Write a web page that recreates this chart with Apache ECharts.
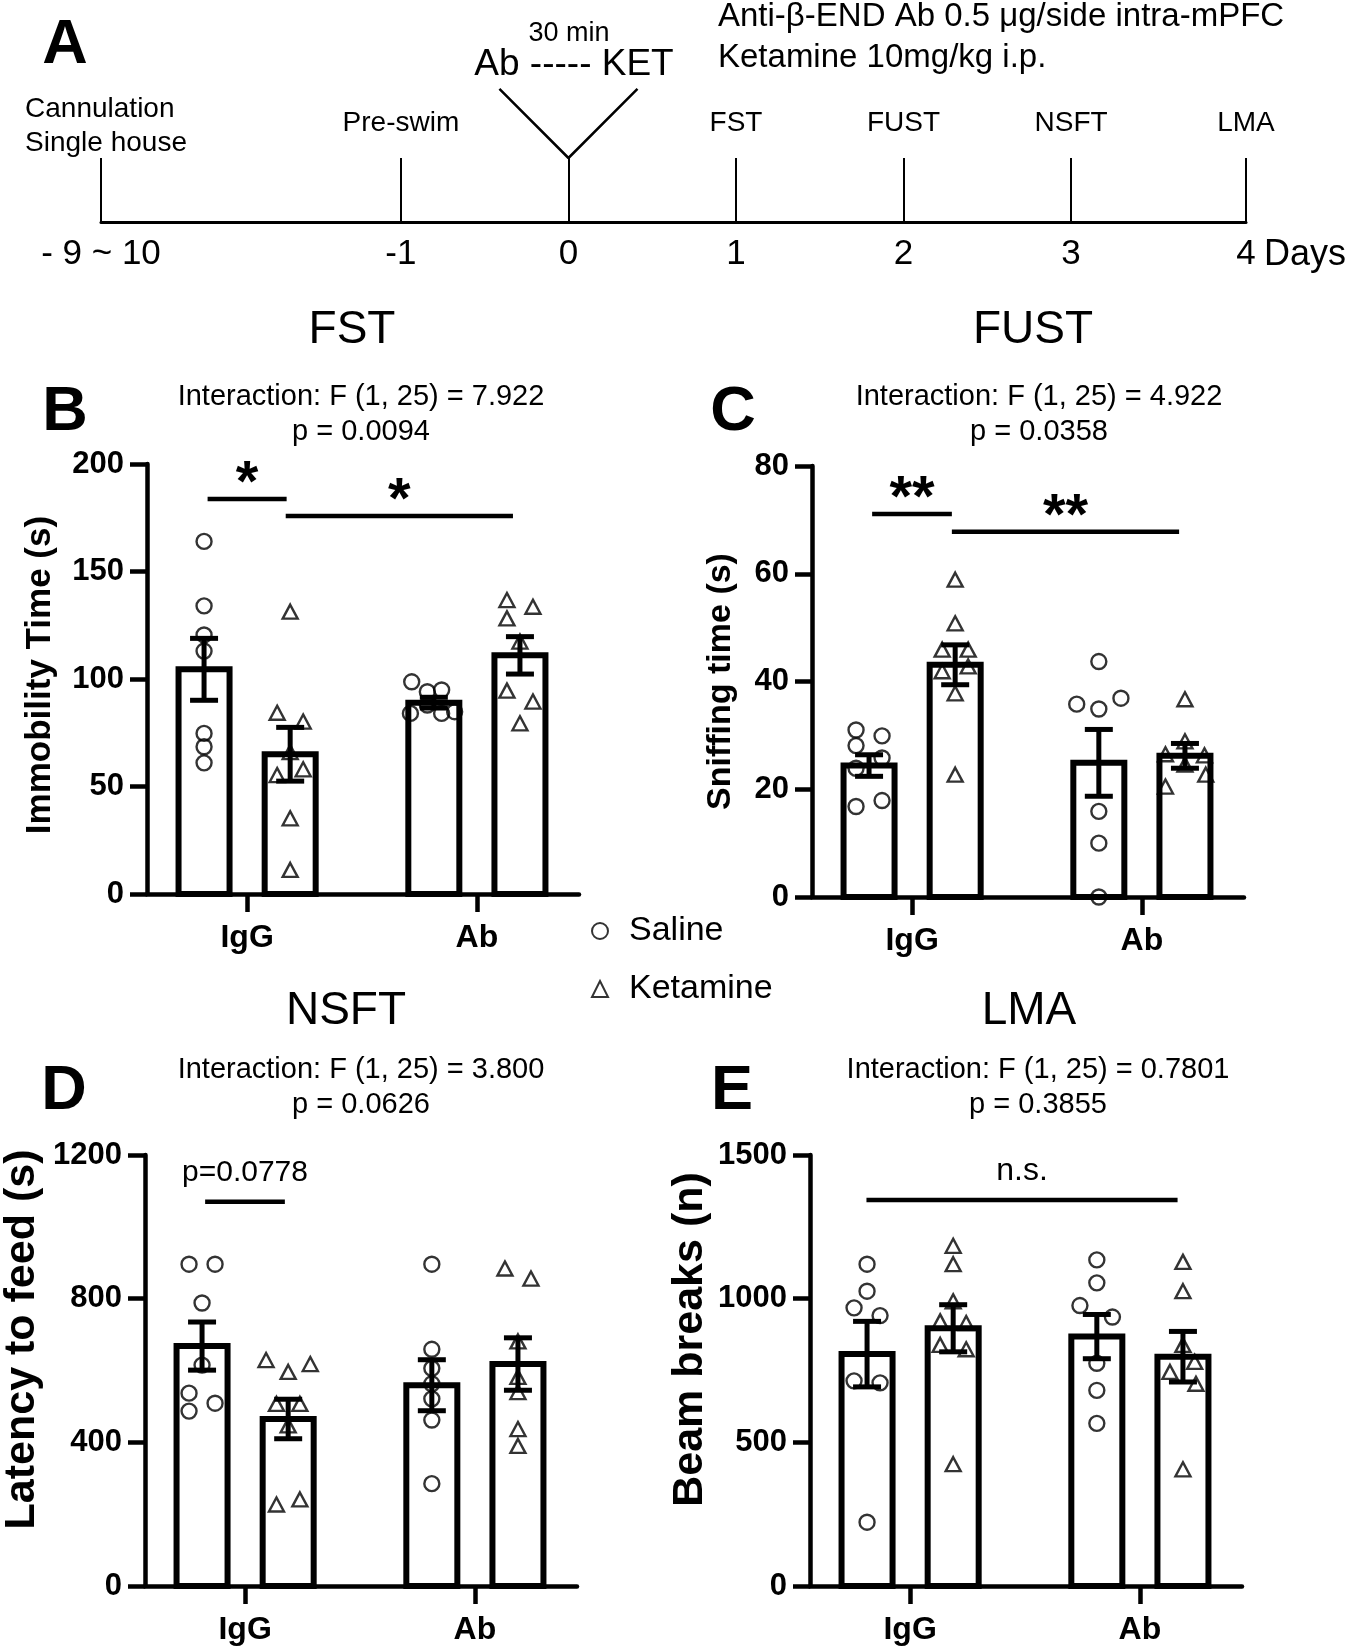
<!DOCTYPE html>
<html><head><meta charset="utf-8">
<script src="https://cdn.jsdelivr.net/npm/echarts@6/dist/echarts.min.js"></script>
<style>html,body{margin:0;padding:0;background:#fff}#c{width:1350px;height:1648px}</style>
</head><body><div id="c"></div>
<script>
const FONT = "'Liberation Sans', Arial, Helvetica, sans-serif";

// ---------- categories ----------
const groups = ['IgG', 'Ab'];
const treatments = ['Saline', 'Ketamine'];

// ---------- Panel A: timeline ----------
const dayPos = [-2.79, -1, 0, 1, 2, 3, 4.044];
const dayLabels = ['- 9 ~ 10', '-1', '0', '1', '2', '3', '4'];
const eventLabels = ['Cannulation\nSingle house', 'Pre-swim', '', 'FST', 'FUST', 'NSFT', 'LMA'];
const injectionX = [-0.412, 0, 0.412];
const injectionY = [2.08, 1, 2.08];

// ---------- Panel B: FST (order: IgG-Saline, IgG-Ketamine, Ab-Saline, Ab-Ketamine) ----------
const fstMeans = [104.5, 65, 89, 111];
const fstSem = [14.4, 12.5, 2.5, 8.7];
const fstSalineIgG = [164, 134, 120.5, 113, 74.7, 68.5, 61];
const fstSalineIgGJit = [0, 0, 0, 0, 0, 0, 0];
const fstKetamineIgG = [131.3, 84.3, 80.2, 66, 58, 55.3, 35.2, 11.2];
const fstKetamineIgGJit = [0, -1, 1, 0, 1, -1, 0, 0];
const fstSalineAb = [98.7, 94.1, 94.9, 87.9, 84, 84, 84.8];
const fstSalineAbJit = [-1.7, -0.5, 0.6, -0.5, -1.8, 0.6, 1.6];
const fstKetamineAb = [136.7, 133.6, 128.2, 117.4, 94.6, 89.5, 79.4];
const fstKetamineAbJit = [-1, 1, -1, 0, -1, 1, 0];
const fstSig = [[-0.172, 0.172, 183.7], [0.168, 1.157, 175.8]];
const fstSigText = ['*', '*'];

// ---------- Panel C: FUST ----------
const fustMeans = [24.4, 43.1, 24.9, 26.2];
const fustSem = [2.0, 3.7, 6.2, 2.3];
const fustSalineIgG = [31.0, 29.9, 28.1, 25.8, 23.9, 17.9, 16.8];
const fustSalineIgGJit = [-1, 1, -1, 1, -1, 1, -1];
const fustKetamineIgG = [58.9, 50.8, 45.9, 45.9, 42.8, 41.9, 37.8, 22.7];
const fustKetamineIgGJit = [0, 0, -1, 1, 1, -1, 0, 0];
const fustSalineAb = [43.7, 36.9, 35.8, 34.9, 15.9, 10.0, 0];
const fustSalineAbJit = [0, 1.7, -1.7, 0, 0, 0, 0];
const fustKetamineAb = [36.7, 28.9, 26.5, 26.3, 24.6, 22.7, 20.5];
const fustKetamineAbJit = [0, 0, -1.5, 1.5, 0, 1.6, -1.5];
const fustSig = [[-0.174, 0.173, 71.1], [0.173, 1.162, 67.8]];
const fustSigText = ['**', '**'];

// ---------- Panel D: NSFT ----------
const nsftMeans = [668, 465, 559, 618];
const nsftSem = [67, 55, 71, 73];
const nsftSalineIgG = [896, 896, 788, 615, 537, 509, 487];
const nsftSalineIgGJit = [-1, 1, 0, 0, -1, 1, -1];
const nsftKetamineIgG = [629, 618, 596, 507, 507, 447, 241, 227];
const nsftKetamineIgGJit = [-1.7, 1.7, 0, -0.9, 0.9, 0, 0.9, -0.9];
const nsftSalineAb = [896, 659, 606, 563, 521, 462, 285];
const nsftSalineAbJit = [0, 0, 0, 0, 0, 0, 0];
const nsftKetamineAb = [884, 856, 681, 582, 540, 437, 390];
const nsftKetamineAbJit = [-1, 1, 0, 0, 0, 0, 0];
const nsftSig = [[-0.174, 0.173, 1070]];
const nsftSigText = ['p=0.0778'];

// ---------- Panel E: LMA ----------
const lmaMeans = [807, 897, 868, 798];
const lmaSem = [114, 82, 77, 88];
const lmaSalineIgG = [1120, 1026, 968, 941, 714, 707, 222];
const lmaSalineIgGJit = [0, 0, -1, 1, -1, 1, 0];
const lmaKetamineIgG = [1184, 1120, 991, 921, 915, 839, 824, 424];
const lmaKetamineIgGJit = [0, 0, 0, -1, 1, -1, 1, 0];
const lmaSalineAb = [1135, 1055, 976, 936, 775, 681, 566];
const lmaSalineAbJit = [0, 0, -1.3, 1.2, 0, 0, 0];
const lmaKetamineAb = [1128, 1026, 839, 780, 745, 704, 406];
const lmaKetamineAbJit = [0, 0, 0, 0.9, -1, 1, 0];
const lmaSig = [[-0.19, 1.164, 1343]];
const lmaSigText = ['n.s.'];

// ---------- layout / style constants ----------
const BAR_OFF = 0.1874, BAR_HALF = 0.111, JIT = 0.0566;
const XMIN = -0.4357, XMAX = 1.4444;
const CAP = 14;

const panels = [
  {grid: {left: 147, top: 464, width: 432, height: 430}, max: 200, interval: 50,
   name: 'Immobility Time (s)', nameSize: 35, nameGap: 89, nameShift: 8,
   means: fstMeans, sem: fstSem,
   sal: [[fstSalineIgG, fstSalineIgGJit], [fstSalineAb, fstSalineAbJit]],
   ket: [[fstKetamineIgG, fstKetamineIgGJit], [fstKetamineAb, fstKetamineAbJit]],
   sig: fstSig, sigText: fstSigText},
  {grid: {left: 812, top: 466, width: 432, height: 431}, max: 80, interval: 20,
   name: 'Sniffing time (s)', nameSize: 34, nameGap: 74, nameShift: 0,
   means: fustMeans, sem: fustSem,
   sal: [[fustSalineIgG, fustSalineIgGJit], [fustSalineAb, fustSalineAbJit]],
   ket: [[fustKetamineIgG, fustKetamineIgGJit], [fustKetamineAb, fustKetamineAbJit]],
   sig: fustSig, sigText: fustSigText},
  {grid: {left: 145, top: 1155, width: 432, height: 431}, max: 1200, interval: 400,
   name: 'Latency to feed (s)', nameSize: 43, nameGap: 101, nameShift: 62,
   means: nsftMeans, sem: nsftSem,
   sal: [[nsftSalineIgG, nsftSalineIgGJit], [nsftSalineAb, nsftSalineAbJit]],
   ket: [[nsftKetamineIgG, nsftKetamineIgGJit], [nsftKetamineAb, nsftKetamineAbJit]],
   sig: nsftSig, sigText: nsftSigText},
  {grid: {left: 810, top: 1155, width: 432, height: 431}, max: 1500, interval: 500,
   name: 'Beam breaks (n)', nameSize: 43, nameGap: 98, nameShift: 62,
   means: lmaMeans, sem: lmaSem,
   sal: [[lmaSalineIgG, lmaSalineIgGJit], [lmaSalineAb, lmaSalineAbJit]],
   ket: [[lmaKetamineIgG, lmaKetamineIgGJit], [lmaKetamineAb, lmaKetamineAbJit]],
   sig: lmaSig, sigText: lmaSigText}
];

function txtStyle(text, size, weight, align) {
  return {text: text, fontSize: size, fontWeight: weight || 'normal', fontFamily: FONT,
    fill: '#000', textFill: '#000', align: align || 'center', textAlign: align || 'center',
    verticalAlign: 'middle', textVerticalAlign: 'middle'};
}

function renderBar(params, api) {
  const x = api.value(0), v = api.value(1);
  const p0 = api.coord([x - BAR_HALF, v]);
  const p1 = api.coord([x + BAR_HALF, 0]);
  return {type: 'rect', shape: {x: p0[0], y: p0[1], width: p1[0] - p0[0], height: p1[1] - p0[1]},
    style: {fill: '#fff', stroke: '#000', lineWidth: 6}};
}
function renderErr(params, api) {
  const x = api.value(0), m = api.value(1), s = api.value(2);
  const t = api.coord([x, m + s]), b = api.coord([x, m - s]);
  const st = {stroke: '#000', lineWidth: 5};
  return {type: 'group', children: [
    {type: 'line', shape: {x1: t[0], y1: t[1], x2: b[0], y2: b[1]}, style: st},
    {type: 'line', shape: {x1: t[0] - CAP, y1: t[1], x2: t[0] + CAP, y2: t[1]}, style: st},
    {type: 'line', shape: {x1: b[0] - CAP, y1: b[1], x2: b[0] + CAP, y2: b[1]}, style: st}
  ]};
}
function makeSig(texts) {
  return function (params, api) {
    const y = api.value(2);
    const a = api.coord([api.value(0), y]), b = api.coord([api.value(1), y]);
    const t = texts[params.dataIndex];
    const isStar = /^\*+$/.test(t);
    const size = isStar ? 58 : (t === 'n.s.' ? 32 : 30);
    const off = isStar ? 14 : 29;
    return {type: 'group', children: [
      {type: 'line', shape: {x1: a[0], y1: a[1], x2: b[0], y2: b[1]}, style: {stroke: '#000', lineWidth: 4.5}},
      {type: 'text', x: (a[0] + b[0]) / 2, y: a[1] - off, style: txtStyle(t, size, isStar ? 'bold' : 'normal')}
    ]};
  };
}

const grids = [], xAxes = [], yAxes = [], series = [];
const axisLineStyle = {color: '#000', width: 4.5};
panels.forEach(function (p, k) {
  grids.push(Object.assign({outerBoundsMode: 'none', containLabel: false}, p.grid));
  xAxes.push({type: 'value', gridIndex: k, min: XMIN, max: XMAX,
    axisLine: {show: true, onZero: false, lineStyle: axisLineStyle},
    axisTick: {show: true, customValues: [0, 1], length: 18, lineStyle: axisLineStyle},
    axisLabel: {show: true, customValues: [0, 1], formatter: function (v) { return groups[Math.round(v)]; },
      fontSize: 32, fontWeight: 'bold', color: '#000', fontFamily: FONT, margin: 28},
    splitLine: {show: false}});
  yAxes.push({type: 'value', gridIndex: k, min: 0, max: p.max, interval: p.interval,
    axisLine: {show: true, onZero: false, lineStyle: axisLineStyle},
    axisTick: {show: true, length: 17, lineStyle: axisLineStyle},
    axisLabel: {fontSize: 31, fontWeight: 'bold', color: '#000', fontFamily: FONT, margin: 23,
      formatter: function (v) { return String(v); }},
    splitLine: {show: false},
    name: p.name, nameLocation: 'middle', nameRotate: 90, nameGap: p.nameGap,
    nameTextStyle: {fontSize: p.nameSize, fontWeight: 'bold', color: '#000', fontFamily: FONT,
      padding: [0, 0, 0, p.nameShift]}});
  const barData = [];
  for (let g = 0; g < 2; g++) {
    barData.push([g - BAR_OFF, p.means[2 * g], p.sem[2 * g]]);
    barData.push([g + BAR_OFF, p.means[2 * g + 1], p.sem[2 * g + 1]]);
  }
  series.push({type: 'custom', xAxisIndex: k, yAxisIndex: k, data: barData, renderItem: renderBar,
    encode: {x: 0, y: 1}, z: 2, silent: true, clip: false});
  const salPts = [], ketPts = [];
  for (let g = 0; g < 2; g++) {
    p.sal[g][0].forEach(function (v, i) { salPts.push([g - BAR_OFF + p.sal[g][1][i] * JIT, v]); });
    p.ket[g][0].forEach(function (v, i) { ketPts.push([g + BAR_OFF + p.ket[g][1][i] * JIT, v]); });
  }
  const mk = {color: 'rgba(0,0,0,0)', borderColor: '#000', borderWidth: 2.4};
  series.push({type: 'scatter', name: 'Saline', xAxisIndex: k, yAxisIndex: k, data: salPts,
    symbol: 'circle', symbolSize: 15, itemStyle: mk, z: 3, silent: true});
  series.push({type: 'scatter', name: 'Ketamine', xAxisIndex: k, yAxisIndex: k, data: ketPts,
    symbol: 'triangle', symbolSize: [15, 14], itemStyle: mk, z: 3, silent: true});
  series.push({type: 'custom', xAxisIndex: k, yAxisIndex: k, data: barData, renderItem: renderErr,
    encode: {x: 0, y: 1}, z: 4, silent: true, clip: false});
  series.push({type: 'custom', xAxisIndex: k, yAxisIndex: k, data: p.sig, renderItem: makeSig(p.sigText),
    encode: {x: [0, 1], y: 2}, z: 4, silent: true, clip: false});
});

// ---------- timeline (grid 4) ----------
function dayIdx(v) { return dayPos.findIndex(function (d) { return Math.abs(d - v) < 1e-6; }); }
grids.push({left: 101, top: 158, width: 1145, height: 64, outerBoundsMode: 'none', containLabel: false});
xAxes.push({type: 'value', gridIndex: 4, min: dayPos[0], max: dayPos[dayPos.length - 1], position: 'bottom',
  axisLine: {show: true, onZero: false, lineStyle: {color: '#000', width: 3}},
  axisTick: {show: true, inside: true, length: 64, customValues: dayPos, lineStyle: {color: '#000', width: 2}},
  axisLabel: {show: true, customValues: dayPos, formatter: function (v) { return dayLabels[dayIdx(v)]; },
    fontSize: 35, color: '#000', fontFamily: FONT, margin: 15},
  splitLine: {show: false}});
xAxes.push({type: 'value', gridIndex: 4, min: dayPos[0], max: dayPos[dayPos.length - 1], position: 'top',
  axisLine: {show: false}, axisTick: {show: false},
  axisLabel: {show: true, customValues: dayPos, margin: 35, verticalAlign: 'middle',
    formatter: function (v) {
      const s = eventLabels[dayIdx(v)] || '';
      if (!s) return '';
      const parts = s.split('\n');
      return parts.map(function (t) { return '{' + (parts.length > 1 ? 'm' : 'l') + '|' + t + '}'; }).join('\n');
    },
    fontSize: 28, color: '#000', fontFamily: FONT, lineHeight: 34,
    rich: {l: {align: 'left', fontSize: 28, lineHeight: 34, color: '#000', fontFamily: FONT},
           m: {align: 'left', fontSize: 28, lineHeight: 34, color: '#000', fontFamily: FONT, padding: [6, 0, 0, 10]}}},
  splitLine: {show: false}});
yAxes.push({type: 'value', gridIndex: 4, min: 0, max: 1, show: false});
series.push({type: 'line', xAxisIndex: 4, yAxisIndex: 4, clip: false, symbol: 'none', silent: true,
  data: injectionX.map(function (x, i) { return [x, injectionY[i]]; }),
  lineStyle: {color: '#000', width: 2.5}});

// ---------- texts ----------
function gtext(x, y, text, size, weight, align) {
  return {type: 'text', x: x, y: y, silent: true, style: txtStyle(text, size, weight, align)};
}
const graphic = [
  gtext(65, 46, 'A', 63, 'bold'),
  gtext(569, 34, '30 min', 27),
  gtext(574, 65, 'Ab ----- KET', 37),
  gtext(718, 17, 'Anti-\u03b2-END Ab 0.5 \u03bcg/side intra-mPFC', 33, 'normal', 'left'),
  gtext(718, 58, 'Ketamine 10mg/kg i.p.', 33, 'normal', 'left'),
  gtext(1264, 255, 'Days', 36, 'normal', 'left'),
  gtext(65, 413, 'B', 63, 'bold'),
  gtext(733, 413, 'C', 63, 'bold'),
  gtext(64, 1092, 'D', 63, 'bold'),
  gtext(732, 1092, 'E', 63, 'bold'),
  gtext(352, 330, 'FST', 46),
  gtext(1033, 330, 'FUST', 46),
  gtext(346, 1011, 'NSFT', 46),
  gtext(1029, 1011, 'LMA', 46),
  gtext(361, 397, 'Interaction: F (1, 25) = 7.922', 29),
  gtext(361, 432, 'p = 0.0094', 29),
  gtext(1039, 397, 'Interaction: F (1, 25) = 4.922', 29),
  gtext(1039, 432, 'p = 0.0358', 29),
  gtext(361, 1070, 'Interaction: F (1, 25) = 3.800', 29),
  gtext(361, 1105, 'p = 0.0626', 29),
  gtext(1038, 1070, 'Interaction: F (1, 25) = 0.7801', 29),
  gtext(1038, 1105, 'p = 0.3855', 29)
];

const chart = echarts.init(document.getElementById('c'), null, {renderer: 'canvas'});
chart.setOption({
  animation: false,
  backgroundColor: '#fff',
  textStyle: {fontFamily: FONT},
  grid: grids, xAxis: xAxes, yAxis: yAxes,
  legend: {data: treatments, orient: 'vertical', left: 586, top: 909, itemWidth: 16, itemHeight: 16,
    itemGap: 24, selectedMode: false,
    textStyle: {fontSize: 34, color: '#000', fontFamily: FONT, padding: [0, 0, 0, 16]}},
  graphic: graphic,
  series: series
});
</script></body></html>
